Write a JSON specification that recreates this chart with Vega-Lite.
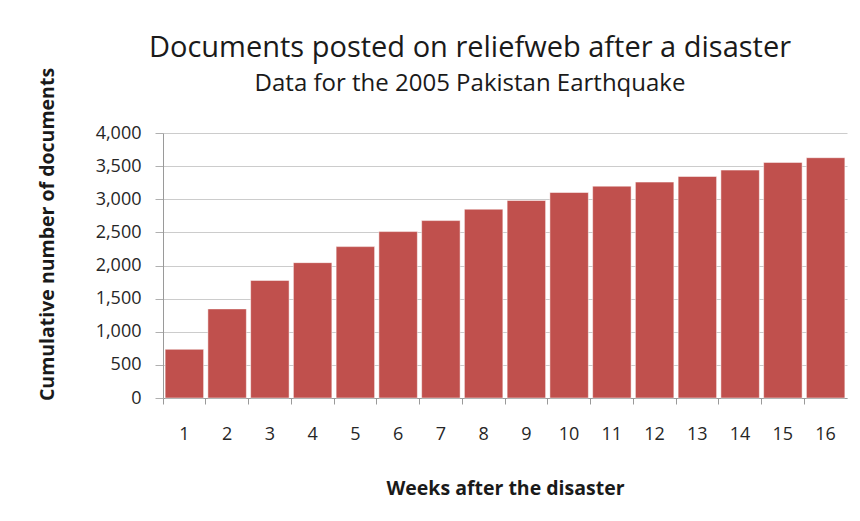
{
  "$schema": "https://vega.github.io/schema/vega-lite/v6.json",
  "width": 684,
  "height": 265,
  "autosize": {"type": "none"},
  "padding": {"left": 163, "top": 133, "right": 13, "bottom": 123},
  "background": "white",
  "title": {
    "text": "Documents posted on reliefweb after a disaster",
    "subtitle": "Data for the 2005 Pakistan Earthquake",
    "anchor": "middle",
    "dx": -35,
    "font": "Open Sans",
    "fontSize": 29,
    "fontWeight": "normal",
    "color": "#1a1a1a",
    "subtitleFont": "Open Sans",
    "subtitleFontSize": 24,
    "subtitleColor": "#1a1a1a",
    "subtitlePadding": 9,
    "offset": -29
  },
  "data": {
    "values": [
      {"week": 1, "documents": 735},
      {"week": 2, "documents": 1345},
      {"week": 3, "documents": 1775},
      {"week": 4, "documents": 2043},
      {"week": 5, "documents": 2285},
      {"week": 6, "documents": 2512},
      {"week": 7, "documents": 2678},
      {"week": 8, "documents": 2850},
      {"week": 9, "documents": 2981},
      {"week": 10, "documents": 3102},
      {"week": 11, "documents": 3198},
      {"week": 12, "documents": 3259},
      {"week": 13, "documents": 3344},
      {"week": 14, "documents": 3440},
      {"week": 15, "documents": 3556},
      {"week": 16, "documents": 3627}
    ]
  },
  "mark": {"type": "bar", "color": "#C0504D", "stroke": "#ffffff", "strokeWidth": 0.5},
  "encoding": {
    "x": {
      "field": "week",
      "type": "ordinal",
      "scale": {"paddingInner": 0.1, "paddingOuter": 0.05},
      "axis": {
        "title": "Weeks after the disaster",
        "titleFont": "Open Sans",
        "titleFontSize": 19.5,
        "titleFontWeight": "bold",
        "titleColor": "#1a1a1a",
        "titlePadding": 36,
        "labelFont": "Open Sans",
        "labelFontSize": 18,
        "labelColor": "#262626",
        "labelAngle": 0,
        "labelPadding": 21,
        "ticks": true,
        "bandPosition": -0.055,
        "tickSize": 6,
        "tickColor": "#9a9a9a",
        "domainColor": "#9a9a9a",
        "domainWidth": 1.2
      }
    },
    "y": {
      "field": "documents",
      "type": "quantitative",
      "scale": {"domain": [0, 4000], "nice": false},
      "axis": {
        "values": [0, 500, 1000, 1500, 2000, 2500, 3000, 3500, 4000],
        "format": ",d",
        "title": "Cumulative number of documents",
        "titleFont": "Open Sans",
        "titleFontSize": 19.5,
        "titleFontWeight": "bold",
        "titleColor": "#1a1a1a",
        "titlePadding": 38,
        "titleY": 101,
        "labelFont": "Open Sans",
        "labelFontSize": 18,
        "labelColor": "#262626",
        "labelPadding": 14,
        "tickSize": 8,
        "tickColor": "#b0b0b0",
        "gridColor": "#cccccc",
        "domainColor": "#9a9a9a"
      }
    }
  },
  "config": {"view": {"stroke": null}}
}
